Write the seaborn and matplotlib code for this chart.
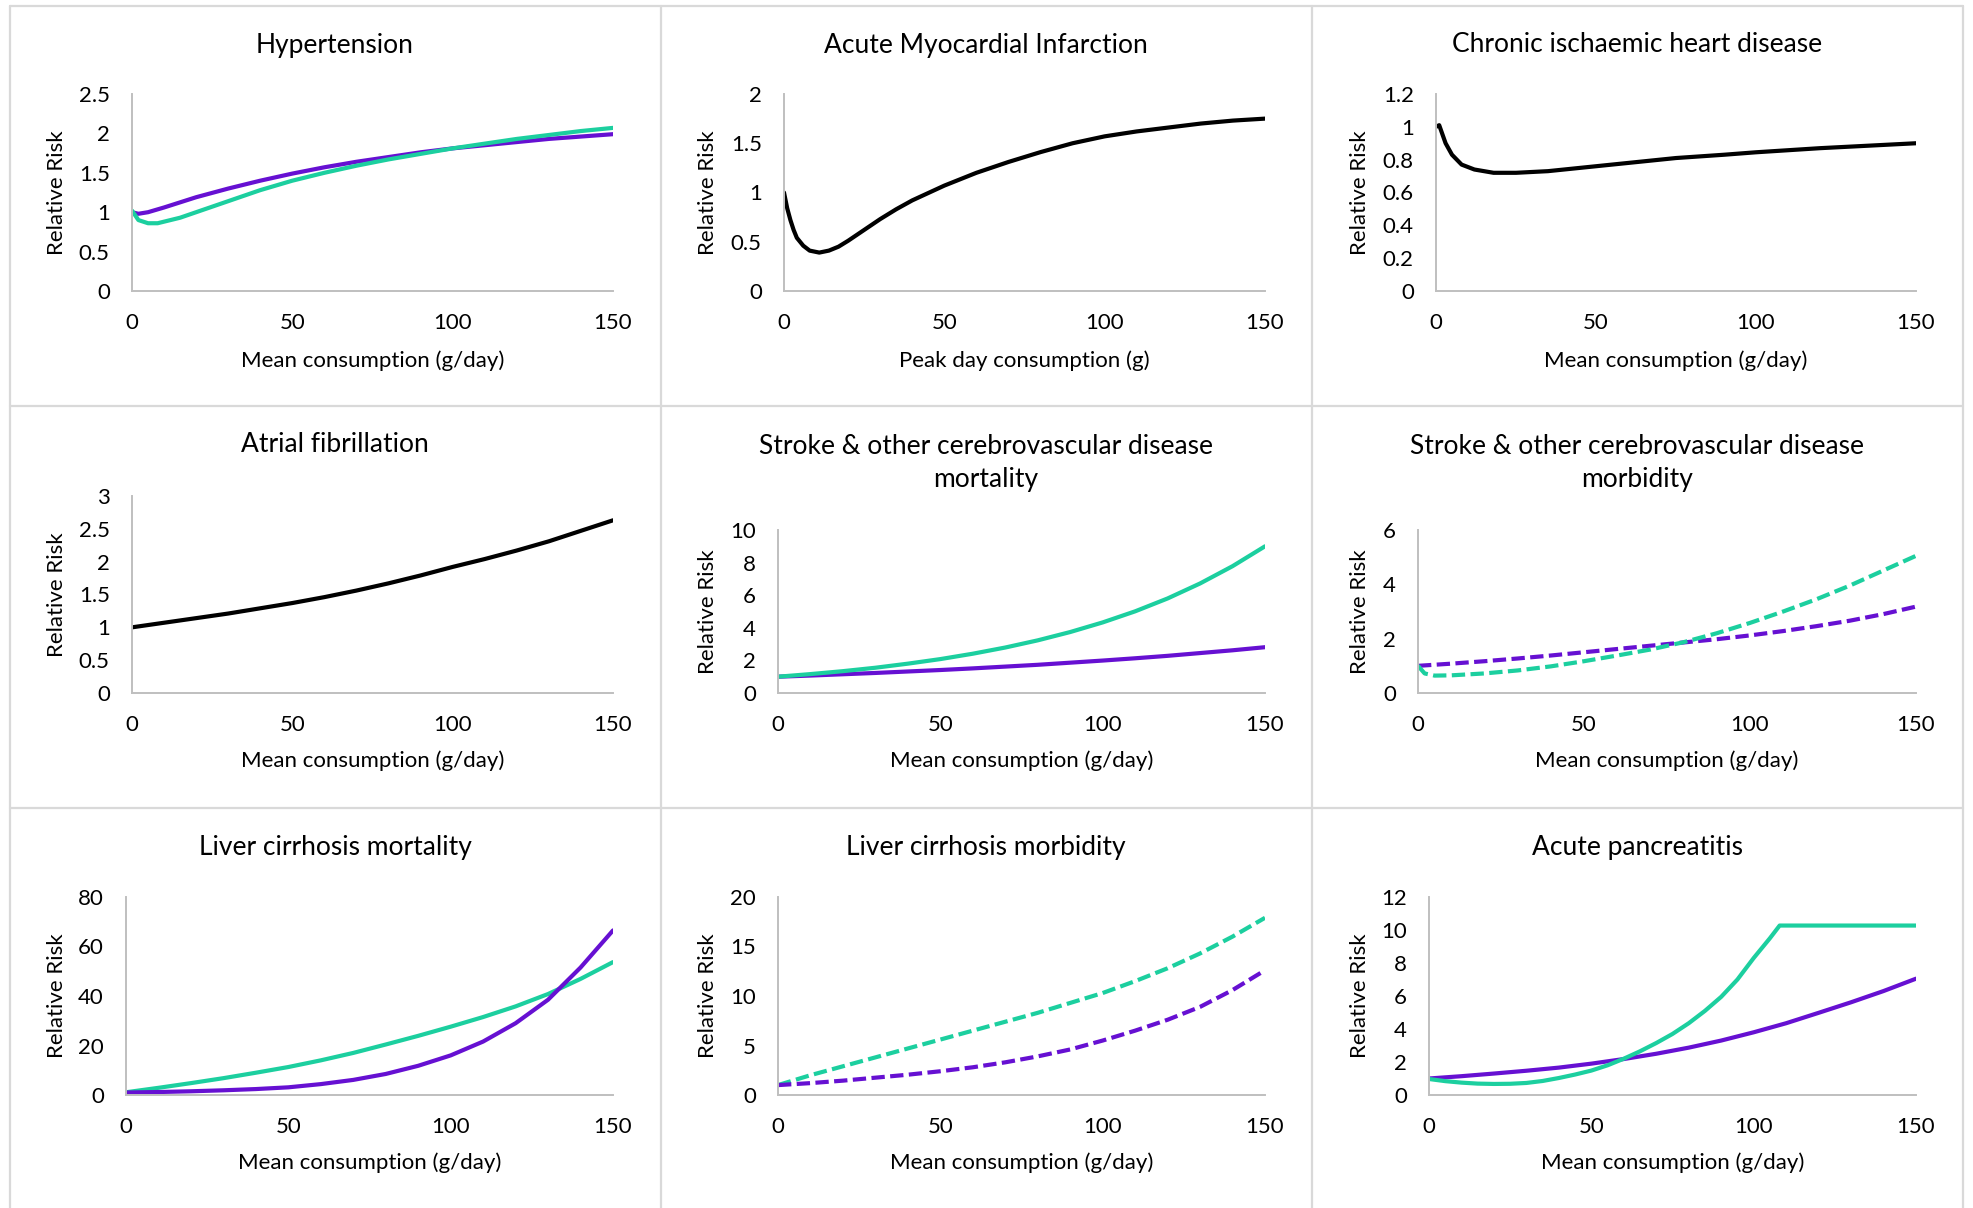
"""Relative risk curves by alcohol consumption, 3x3 panel grid."""

import matplotlib.pyplot as plt
import matplotlib.transforms as mtransforms
from matplotlib.lines import Line2D
import seaborn as sns

PURPLE = "#6610d2"
TEAL = "#1ccf9f"
BLACK = "#000000"

# ---------- data ----------
hyp_x_p = [0, 2, 5, 10, 20, 30, 40, 50, 60, 70, 80, 90, 100, 110, 120, 130, 140, 150]
hyp_purple = [1.0, 0.98, 1.0, 1.06, 1.19, 1.30, 1.40, 1.49, 1.57, 1.64, 1.70, 1.76, 1.81, 1.85, 1.89, 1.93, 1.96, 1.99]
hyp_x_t = [0, 2, 5, 8, 10, 15, 20, 30, 40, 50, 60, 70, 80, 90, 100, 110, 120, 130, 140, 150]
hyp_teal = [1.02, 0.90, 0.86, 0.86, 0.88, 0.93, 1.00, 1.14, 1.28, 1.40, 1.50, 1.59, 1.67, 1.74, 1.81, 1.87, 1.93, 1.98, 2.03, 2.07]

ami_x = [0, 1, 2, 3, 4, 6, 8, 11, 14, 17, 20, 25, 30, 35, 40, 50, 60, 70, 80, 90, 100, 110, 120, 130, 140, 150]
ami_rr = [1.0, 0.84, 0.72, 0.62, 0.54, 0.46, 0.41, 0.39, 0.41, 0.45, 0.51, 0.62, 0.73, 0.83, 0.92, 1.07, 1.20, 1.31, 1.41, 1.50, 1.57, 1.62, 1.66, 1.70, 1.73, 1.75]

ihd_x = [0, 1, 3, 5, 8, 12, 18, 25, 35, 50, 60, 75, 90, 100, 120, 135, 150]
ihd_rr = [1.0, 1.01, 0.90, 0.83, 0.77, 0.74, 0.72, 0.72, 0.73, 0.76, 0.78, 0.81, 0.83, 0.845, 0.87, 0.885, 0.90]

x10 = [0, 10, 20, 30, 40, 50, 60, 70, 80, 90, 100, 110, 120, 130, 140, 150]
af_rr = [1.0, 1.07, 1.14, 1.21, 1.29, 1.37, 1.46, 1.56, 1.67, 1.79, 1.92, 2.04, 2.17, 2.31, 2.47, 2.63]

stroke_mort_teal = [1.0, 1.16, 1.34, 1.55, 1.80, 2.08, 2.41, 2.79, 3.23, 3.74, 4.33, 5.01, 5.80, 6.72, 7.78, 9.0]
stroke_mort_purple = [1.0, 1.07, 1.15, 1.23, 1.32, 1.41, 1.51, 1.62, 1.73, 1.86, 1.99, 2.13, 2.28, 2.45, 2.62, 2.81]

stroke_morb_x_t = [0, 2, 5, 10, 20, 30, 40, 50, 60, 70, 80, 90, 100, 110, 120, 130, 140, 150]
stroke_morb_teal = [1.0, 0.72, 0.64, 0.65, 0.72, 0.83, 0.98, 1.17, 1.38, 1.60, 1.87, 2.20, 2.58, 3.00, 3.45, 3.95, 4.50, 5.05]
stroke_morb_purple = [1.0, 1.08, 1.17, 1.27, 1.38, 1.50, 1.62, 1.74, 1.86, 1.98, 2.12, 2.28, 2.46, 2.66, 2.90, 3.18]

liver_mort_purple = [1.0, 1.2, 1.5, 1.9, 2.4, 3.1, 4.4, 6.1, 8.5, 11.8, 16.0, 21.6, 29.0, 38.5, 51.5, 66.5]
liver_mort_teal = [1.1, 2.9, 4.8, 6.8, 9.0, 11.3, 14.0, 17.0, 20.4, 23.9, 27.6, 31.5, 35.8, 40.8, 46.9, 53.7]

liver_morb_teal = [1.0, 2.0, 2.9, 3.8, 4.7, 5.6, 6.5, 7.4, 8.3, 9.3, 10.3, 11.5, 12.8, 14.3, 16.0, 17.9]
liver_morb_purple = [1.0, 1.2, 1.45, 1.75, 2.05, 2.4, 2.8, 3.3, 3.9, 4.6, 5.5, 6.5, 7.6, 8.9, 10.6, 12.6]

panc_purple = [1.0, 1.14, 1.3, 1.47, 1.66, 1.9, 2.18, 2.5, 2.87, 3.3, 3.8, 4.35, 4.98, 5.62, 6.3, 7.05]
panc_x_t = [0, 5, 10, 15, 20, 25, 30, 35, 40, 45, 50, 55, 60, 65, 70, 75, 80, 85, 90, 95, 100, 105, 108, 150]
panc_teal = [0.97, 0.84, 0.75, 0.69, 0.67, 0.68, 0.73, 0.85, 1.03, 1.24, 1.48, 1.80, 2.20, 2.65, 3.15, 3.70, 4.35, 5.10, 5.95, 7.00, 8.30, 9.50, 10.27, 10.27]

titles = [
    "Hypertension",
    "Acute Myocardial Infarction",
    "Chronic ischaemic heart disease",
    "Atrial fibrillation",
    "Stroke & other cerebrovascular disease\nmortality",
    "Stroke & other cerebrovascular disease\nmorbidity",
    "Liver cirrhosis mortality",
    "Liver cirrhosis morbidity",
    "Acute pancreatitis",
]
xlabels = ["Mean consumption (g/day)", "Peak day consumption (g)"] + ["Mean consumption (g/day)"] * 7
ymax = [2.5, 2, 1.2, 3, 10, 6, 80, 20, 12]
ysteps = [0.5, 0.5, 0.2, 0.5, 2, 2, 20, 5, 2]
x_ticks = [0, 50, 100, 150]

# series per panel: (x, y, colour, dashed)
series = [
    [(hyp_x_p, hyp_purple, PURPLE, False), (hyp_x_t, hyp_teal, TEAL, False)],
    [(ami_x, ami_rr, BLACK, False)],
    [(ihd_x, ihd_rr, BLACK, False)],
    [(x10, af_rr, BLACK, False)],
    [(x10, stroke_mort_purple, PURPLE, False), (x10, stroke_mort_teal, TEAL, False)],
    [(x10, stroke_morb_purple, PURPLE, True), (stroke_morb_x_t, stroke_morb_teal, TEAL, True)],
    [(x10, liver_mort_teal, TEAL, False), (x10, liver_mort_purple, PURPLE, False)],
    [(x10, liver_morb_teal, TEAL, True), (x10, liver_morb_purple, PURPLE, True)],
    [(x10, panc_purple, PURPLE, False), (panc_x_t, panc_teal, TEAL, False)],
]

# ---------- layout (pixels of a 1973x1208 canvas) ----------
W, H = 1973, 1208
axes_px = [  # left, top, right, bottom
    (132, 94, 613, 291), (784, 94, 1265, 291), (1436, 94, 1916, 291),
    (132, 496, 613, 693), (778, 530, 1265, 693), (1418, 530, 1916, 693),
    (126, 897, 613, 1095), (778, 897, 1265, 1095), (1429, 897, 1916, 1095),
]
col_centres = [335, 986, 1637]
ylabel_x = [57, 708, 1360]
title_y = [45, 463, 848]
xlabel_y = [361, 761, 1163]
grid_x = [10, 661, 1312, 1963]
grid_y = [6, 406, 808]

sns.set_theme(style="white")
plt.rcParams["font.family"] = ["Lato", "DejaVu Sans"]
plt.rcParams["lines.solid_capstyle"] = "round"

fig = plt.figure(figsize=(W / 100, H / 100), dpi=100)
fig.patch.set_facecolor("white")

# light grey cell borders
for gx in grid_x:
    fig.add_artist(Line2D([gx / W, gx / W], [1 - 6 / H, 0], color="#d9d9d9", lw=1.6))
for gy in grid_y:
    fig.add_artist(Line2D([10 / W, 1963 / W], [1 - gy / H, 1 - gy / H], color="#d9d9d9", lw=1.6))

for i, (l, t, r, b) in enumerate(axes_px):
    row, col = divmod(i, 3)
    ax = fig.add_axes([l / W, 1 - b / H, (r - l) / W, (b - t) / H])
    for x, y, c, dashed in series[i]:
        sns.lineplot(x=x, y=y, ax=ax, color=c, lw=3, estimator=None, sort=False,
                     linestyle=(0, (3.2, 1.3)) if dashed else "-")
    ax.set_xlim(0, 150)
    ax.set_ylim(0, ymax[i])
    n = int(round(ymax[i] / ysteps[i]))
    yt = [round(k * ysteps[i], 2) for k in range(n + 1)]
    ax.set_yticks(yt)
    ax.set_yticklabels([f"{v:g}" for v in yt])
    ax.set_xticks(x_ticks)
    ax.tick_params(axis="both", length=0, pad=16, labelsize=16, labelcolor="black")
    for s in ("top", "right"):
        ax.spines[s].set_visible(False)
    for s in ("left", "bottom"):
        ax.spines[s].set_color("#bfbfbf")
        ax.spines[s].set_linewidth(1.4)
    ax.set_facecolor("white")
    ax.grid(False)

    ax.set_ylabel("Relative Risk", fontsize=16, color="black", va="center")
    ax.yaxis.set_label_coords(ylabel_x[col] / W, 0.5,
                              transform=mtransforms.blended_transform_factory(fig.transFigure, ax.transAxes))
    ax.set_xlabel(xlabels[i], fontsize=16, color="black", va="center")
    ax.xaxis.set_label_coords(0.5, 1 - xlabel_y[row] / H,
                              transform=mtransforms.blended_transform_factory(ax.transAxes, fig.transFigure))

    # middle row: single-line title sits on the first line of the two-line ones
    ty = 445 if (row == 1 and "\n" not in titles[i]) else title_y[row]
    fig.text(col_centres[col] / W, 1 - ty / H, titles[i], ha="center", va="center",
             fontsize=19, color="black", linespacing=1.35)

fig.savefig("out.png", dpi=100, facecolor="white")
